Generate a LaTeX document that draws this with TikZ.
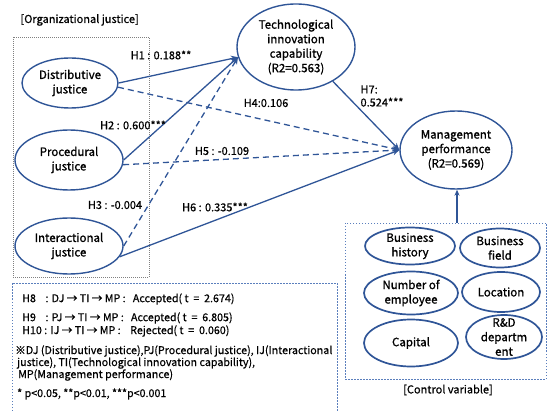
\documentclass[tikz,border=0pt]{standalone}
\usepackage{fontspec}
\setmainfont{Noto Sans CJK KR}
\newfontfamily\semibold{Noto Sans CJK KR}[FakeBold=1.2]
\newfontfamily\halfbold{Noto Sans CJK KR}[FakeBold=0.6]
\usepackage{xcolor}
\usetikzlibrary{arrows.meta,shapes.geometric}
\definecolor{lineblue}{RGB}{47,85,151}
\definecolor{boxblue}{RGB}{91,127,189}

\begin{document}
\begin{tikzpicture}[x=1pt,y=-1pt,
    var/.style={ellipse,draw=lineblue,line width=1.4pt,inner sep=-4pt,align=center,font=\semibold\fontsize{11.5}{14.5}\selectfont},
    ctrl/.style={var,line width=1.7pt},
    path/.style={draw=lineblue,line width=1.3pt,-{Stealth[length=7pt,width=6pt]}},
    ns/.style={path,dash pattern=on 6pt off 4pt},
    lab/.style={font=\halfbold\fontsize{11}{13}\selectfont},
    note/.style={anchor=west,inner sep=0pt,font=\halfbold\fontsize{10.7}{13}\selectfont}]
    \useasboundingbox (0,0) rectangle (548,411);
    \draw[gray,dash pattern=on 1pt off 1pt] (13,37) rectangle (149,277);
    \draw[boxblue,dash pattern=on 1.5pt off 1.5pt] (345,223) rectangle (546,379);
    \draw[boxblue,dash pattern=on 1.5pt off 1.5pt] (12,411) -- (12,283) -- (337,283) -- (337,411);
    \node[lab,anchor=west] (tOJ) at (17,20) {[Organizational justice]};
    \node[lab] (tCV) at (448,390) {[Control variable]};
    \node[var,minimum width=96,minimum height=50] (DJ) at (70,83) {Distributive\\justice};
    \node[var,minimum width=108,minimum height=60] (PJ) at (69,160) {Procedural\\justice};
    \node[var,minimum width=108,minimum height=56] (IJ) at (69,246) {Interactional\\justice};
    \node[var,minimum width=118,minimum height=86] (TI) at (296,47) {Technological\\innovation\\capability\\(R2=0.563)};
    \node[var,minimum width=112,minimum height=78] (MP) at (456,150) {Management\\performance\\(R2=0.569)};
    \node[ctrl,minimum width=90,minimum height=37] (BH) at (410,246) {Business\\history};
    \node[ctrl,minimum width=80,minimum height=39] (BF) at (500,248) {Business\\field};
    \node[ctrl,minimum width=94,minimum height=43] (NE) at (411,293) {Number of\\employee};
    \node[ctrl,minimum width=78,minimum height=40] (LO) at (501,292) {Location};
    \node[ctrl,minimum width=94,minimum height=47] (CA) at (411,343) {Capital};
    \node[ctrl,minimum width=76,minimum height=44] (RD) at (504,337) {R\&D\\departm\\ent};
    \draw[path] (DJ.east) -- (TI.190);
    \draw[path] (PJ.east) -- (TI.190);
    \draw[ns] (IJ.east) -- (TI.190);
    \draw[ns] (DJ.-5) -- (MP.west);
    \draw[ns] (PJ.-5) -- (MP.west);
    \draw[path] (IJ.-12) -- (MP.west);
    \draw[path] (TI.-43) -- (MP.west);
    \coordinate (CVtop) at (457,223);
    \draw[path,-{Stealth[length=6pt,width=5pt]}] (CVtop) -- (CVtop |- MP.south);
    \node[lab] (lH1) at (161,55) {H1 : 0.188**};
    \node[lab] (lH2) at (133,125) {H2 : 0.600***};
    \node[lab] (lH3) at (115,205) {H3 : -0.004};
    \node[lab] (lH4) at (266,103) {H4:0.106};
    \node[lab] (lH5) at (222,151) {H5 : -0.109};
    \node[lab] (lH6) at (215,207) {H6 : 0.335***};
    \node[lab,align=left,anchor=west] (lH7) at (357,96) {H7:\\0.524***};
    \node[note] (nH8) at (22,299) {H8\ \ \ \ : DJ → TI → MP :\ \ \ Accepted(\ t\ \ =\ \ 2.674)};
    \node[note] (nH9) at (22,318) {H9\ \ \ \ : PJ → TI → MP :\ \ \ Accepted(\ t\ \ =\ \ 6.805)};
    \node[note] (nH10) at (22,331) {H10 : IJ → TI → MP :\ \ \ \ Rejected(\ t\ \ =\ \ 0.060)};
    \node[note] (nAbbr) at (15,351) {※DJ (Distributive justice),PJ(Procedural justice), IJ(Interactional};
    \node[note] (nAbbrb) at (17,363) {justice), TI(Technological innovation capability),};
    \node[note] (nAbbrc) at (18,375) {MP(Management performance)};
    \node[note] (nSig) at (17,394) {* p<0.05, **p<0.01, ***p<0.001};
\end{tikzpicture}
\end{document}
